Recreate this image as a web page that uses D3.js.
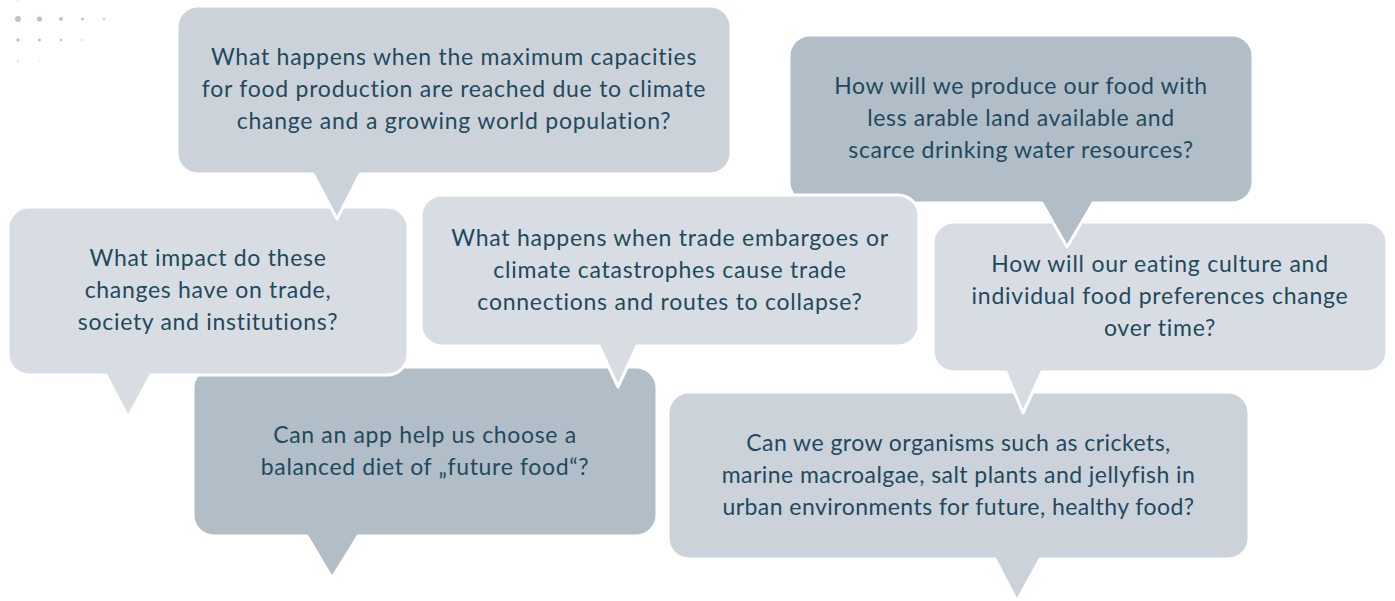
<!DOCTYPE html>
<html>
<head>
<meta charset="utf-8">
<script src="https://cdn.jsdelivr.net/npm/d3@7"></script>
<style>
  html, body { margin: 0; padding: 0; background: #fff; }
  #chart svg { display: block; }
</style>
</head>
<body>
<div id="chart"></div>
<script>
// Questions, one entry per bubble, lines as wrapped in the original
const questions = [
    ['What happens when the maximum capacities', 'for food production are reached due to climate', 'change and a growing world population?'],
    ['What impact do these', 'changes have on trade,', 'society and institutions?'],
    ['How will we produce our food with', 'less arable land available and', 'scarce drinking water resources?'],
    ['What happens when trade embargoes or', 'climate catastrophes cause trade', 'connections and routes to collapse?'],
    ['Can an app help us choose a', 'balanced diet of \u201Efuture food\u201C?'],
    ['How will our eating culture and', 'individual food preferences change', 'over time?'],
    ['Can we grow organisms such as crickets,', 'marine macroalgae, salt plants and jellyfish in', 'urban environments for future, healthy food?']
];

// Shade of each bubble
const tones = ['medium', 'light', 'dark', 'light', 'dark', 'light', 'medium'];
const toneNames = ['light', 'medium', 'dark'];

// Decorative dot grid (radius per dot, row by row)
const dotRows = [
    [2.4, 2.1, 1.6],
    [3.0, 2.6, 2.0, 1.5, 1.0],
    [1.7, 1.5, 1.2, 0.8],
    [0.8, 0.5]
];

// Bubble boxes and pointer tails: [x, y, w, h, tailLeft, tailRight, tipX, tipY]
const layout = [
    [177, 6, 554, 168, 313, 360, 337, 219],
    [8, 207, 400, 168, 106, 151, 128, 417],
    [789, 35, 464, 168, 1042, 1093, 1067, 247],
    [421, 195, 498, 151, 599, 637, 618, 387],
    [193, 367, 464, 169, 307, 358, 332, 578],
    [933, 222, 454, 150, 1006, 1042, 1023, 413],
    [668, 392, 581, 167, 995, 1040, 1017, 601]
];
// letter spacing per bubble (the last one is set tighter)
const tracking = [0.75, 0.7, 0.6, 0.75, 0.65, 0.75, 0.45];
const drawOrder = [6, 4, 5, 2, 3, 1, 0];

const width = 1395;
const height = 601;
const radius = 21;
const lineHeight = 32;

const color = d3.scaleOrdinal()
    .domain(toneNames)
    .range(['#d8dde3', '#cbd2da', '#b1bdc7']);

const svg = d3.select('#chart')
    .append('svg')
    .attr('width', width)
    .attr('height', height)
    .attr('viewBox', [0, 0, width, height]);

// dots
const dotX = d3.scaleLinear().domain([0, 1]).range([18, 39.5]);
const dotY = d3.scaleLinear().domain([0, 1]).range([-2, 19]);
svg.append('g')
    .attr('fill', '#b9c4ce')
    .selectAll('g')
    .data(dotRows)
    .join('g')
    .selectAll('circle')
    .data((row, j) => row.map((r, i) => ({ r, i, j })))
    .join('circle')
    .attr('cx', d => dotX(d.i))
    .attr('cy', d => dotY(d.j))
    .attr('r', d => d.r);

function bubblePath([x, y, w, h, t1, t2, tx, ty]) {
    const r = radius;
    const p = d3.path();
    p.moveTo(x + r, y);
    p.lineTo(x + w - r, y);
    p.arcTo(x + w, y, x + w, y + r, r);
    p.lineTo(x + w, y + h - r);
    p.arcTo(x + w, y + h, x + w - r, y + h, r);
    p.lineTo(t2, y + h);
    p.lineTo(tx, ty);
    p.lineTo(t1, y + h);
    p.lineTo(x + r, y + h);
    p.arcTo(x, y + h, x, y + h - r, r);
    p.lineTo(x, y + r);
    p.arcTo(x, y, x + r, y, r);
    p.closePath();
    return p.toString();
}

const bubbles = svg.append('g')
    .selectAll('g')
    .data(drawOrder)
    .join('g');

bubbles.append('path')
    .attr('d', i => bubblePath(layout[i]))
    .attr('fill', i => color(tones[i]))
    .attr('stroke', '#fff')
    .attr('stroke-width', 3)
    .attr('stroke-linejoin', 'round');

bubbles.append('text')
    .attr('text-anchor', 'middle')
    .attr('fill', '#1f4a5e')
    .style('font-family', 'Lato, "Open Sans", sans-serif')
    .style('font-size', '23px')
    .style('letter-spacing', i => tracking[i] + 'px')
    .selectAll('tspan')
    .data(i => {
        const [x, y, w, h] = layout[i];
        const lines = questions[i];
        return lines.map((t, k) => ({
            t,
            x: x + w / 2,
            y: y + h / 2 + (k - (lines.length - 1) / 2) * lineHeight + 7
        }));
    })
    .join('tspan')
    .attr('x', d => d.x)
    .attr('y', d => d.y)
    .text(d => d.t);
</script>
</body>
</html>
